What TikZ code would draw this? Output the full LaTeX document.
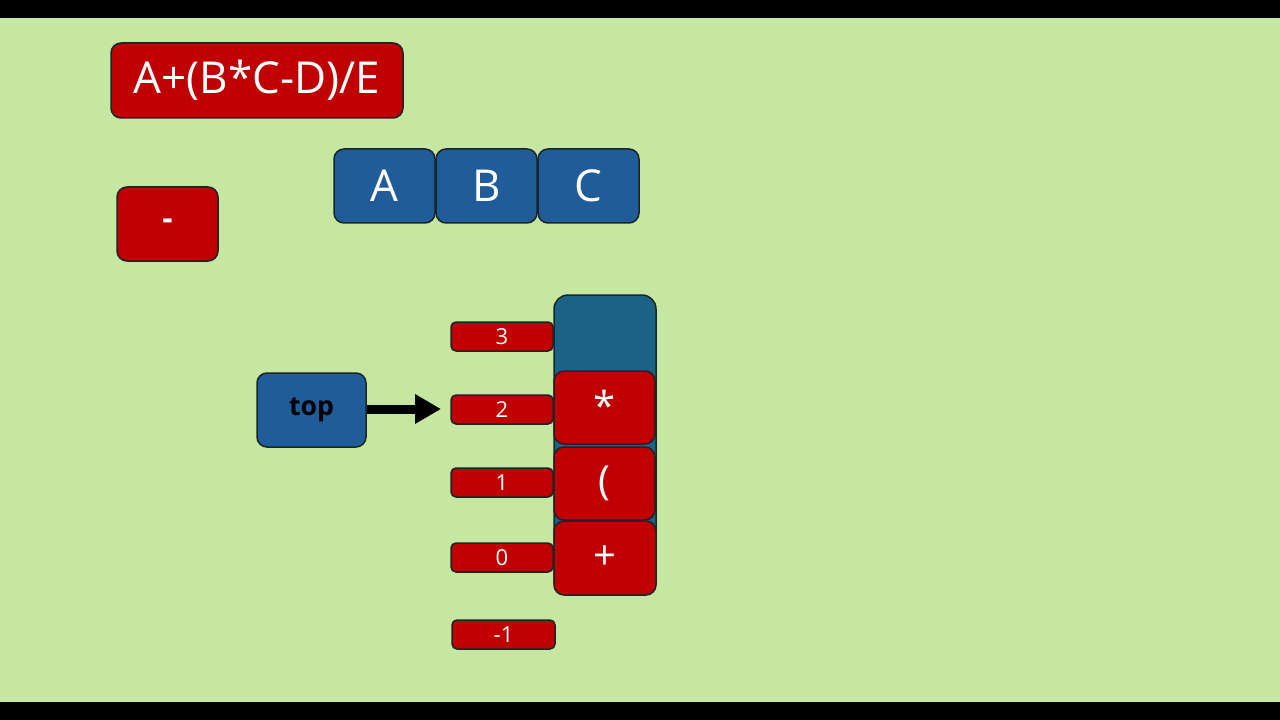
\documentclass[tikz,border=0pt]{standalone}
\usepackage{fontspec}
\setmainfont{Open Sans}
\usetikzlibrary{arrows.meta}
\definecolor{bg}{HTML}{C5E7A1}
\definecolor{rbox}{HTML}{C00000}
\definecolor{bbox}{HTML}{1F5C99}
\definecolor{sbox}{HTML}{1B6386}
\definecolor{edge}{HTML}{1A2626}
\def\u{0.75pt}
\tikzset{
  base/.style={draw=edge, line width=1.5*\u, rounded corners=10*\u, inner sep=0pt, text=white},
  redbox/.style={base, fill=rbox},
  bluebox/.style={base, fill=bbox},
  idxbox/.style={base, fill=rbox, rounded corners=5*\u, minimum width=102*\u, minimum height=29*\u, font=\fontsize{16.5}{16.5}\selectfont},
  bigtxt/.style={font=\fontsize{33}{33}\selectfont},
  celltxt/.style={font=\fontsize{30}{30}\selectfont},
}
\begin{document}
\begin{tikzpicture}[x=0.75pt,y=-0.75pt]
\useasboundingbox (0,0) rectangle (1280,720);
\fill[bg] (0,0) rectangle (1280,720);
\fill[black] (0,0) rectangle (1280,18);
\fill[black] (0,702) rectangle (1280,720);

\node[redbox, minimum width=292*\u, minimum height=75*\u, bigtxt] (title) at (257,80.5) {A+(B*C-D)/E};
\node[redbox, minimum width=101*\u, minimum height=74*\u, font=\fontsize{24}{24}\selectfont\bfseries] (minus) at (167.5,224) {-};

\node[bluebox, minimum width=101*\u, minimum height=74*\u, bigtxt] (A) at (384.5,186) {A};
\node[bluebox, minimum width=101*\u, minimum height=74*\u, bigtxt] (B) at (486.5,186) {B};
\node[bluebox, minimum width=101*\u, minimum height=74*\u, bigtxt] (C) at (588.5,186) {C};

\node[idxbox] (i3) at (502,336.5) {3};
\node[idxbox] (i2) at (502,409.5) {2};
\node[idxbox] (i1) at (502,482.5) {1};
\node[idxbox] (i0) at (502,557.5) {0};
\node[idxbox, minimum width=103*\u] (im1) at (503.5,634.5) {-1};

\node[base, fill=sbox, minimum width=102*\u, minimum height=300*\u, rounded corners=14*\u] (stack) at (605,445) {};
\node[redbox, minimum width=101*\u, minimum height=73*\u, celltxt] (star) at (604.5,407.5) {\raisebox{3pt}{*}};
\node[redbox, minimum width=101*\u, minimum height=73*\u, celltxt] (paren) at (604.5,483.5) {(};
\node[redbox, minimum width=102*\u, minimum height=74*\u, celltxt] (plus) at (605,558) {+};

\node[bluebox, minimum width=109*\u, minimum height=74*\u, text=black, font=\fontsize{20}{20}\selectfont\bfseries] (top) at (311.5,410) {top};
\coordinate (tip) at (441,409);
\draw[line width=9*\u, -{Triangle[length=26*\u,width=28*\u]}] (top.east |- tip) -- (tip);
\end{tikzpicture}
\end{document}
